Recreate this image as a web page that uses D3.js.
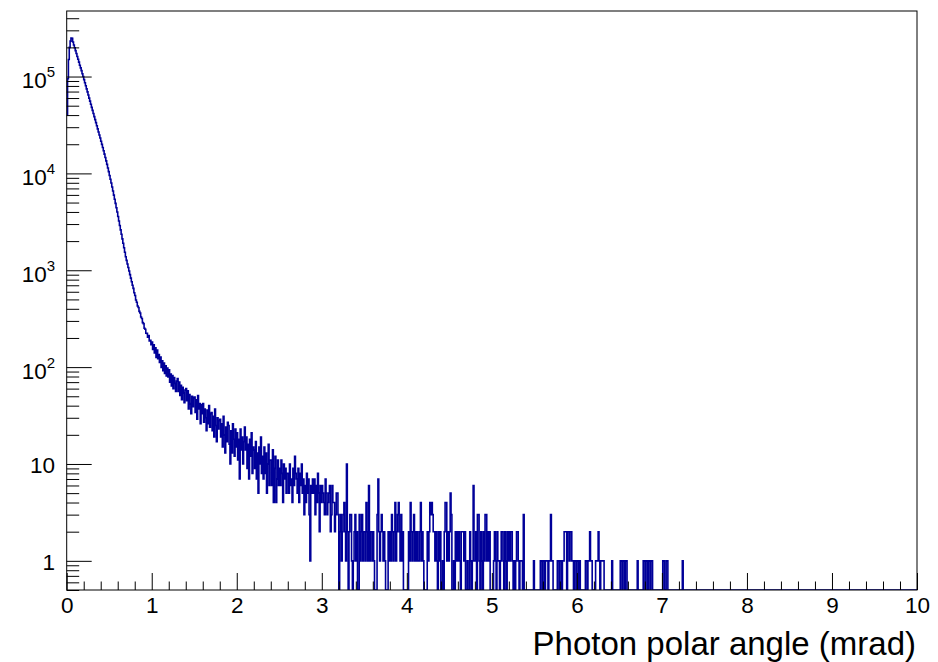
<!DOCTYPE html>
<html>
<head>
<meta charset="utf-8">
<script src="https://cdn.jsdelivr.net/npm/d3@7"></script>
<style>
  body { margin: 0; background: #fff; }
  svg { display: block; font-family: "Liberation Sans", Arial, Helvetica, sans-serif; }
</style>
</head>
<body>
<div id="chart"></div>
<script>
// photon polar angle histogram, log y — ROOT style canvas

const BIN_WIDTH = 0.01;
const N_BINS = 1000;   // 0 .. 10 mrad

// 0 - 1 mrad (core)
const coreCounts = [
  40000, 95000, 150000, 200000, 232000, 250000, 248000, 227000, 212000, 198000,
  185000, 173000, 161000, 151000, 141000, 131000, 123000, 115000, 107000, 100000,
  92900, 86400, 80300, 74600, 69400, 64500, 59900, 55700, 51800, 48100,
  44700, 41600, 38600, 35900, 33400, 31000, 28800, 26800, 24900, 23200,
  21500, 19950, 18500, 17130, 15830, 14610, 13460, 12380, 11360, 10420,
  9530, 8710, 7950, 7240, 6580, 5970, 5410, 4900, 4420, 3990,
  3590, 3230, 2900, 2610, 2350, 2110, 1900, 1710, 1535, 1380,
  1265, 1162, 1068, 981, 902, 829, 762, 700, 650, 585,
  548, 494, 468, 427, 412, 376, 362, 329, 318, 288,
  281, 252, 246, 224, 223, 204, 212, 186, 189, 170
];

// 1 - 3 mrad (halo)
const haloCounts = [
  182, 152, 170, 140, 158, 126, 150, 122, 135, 112,
  127, 99, 116, 92, 110, 86, 103, 81, 98, 79,
  94, 70, 85, 64, 82, 60, 78, 68, 56, 72,
  76, 56, 70, 51, 65, 46, 62, 54, 43, 58,
  60, 45, 57, 37, 52, 42, 33, 50, 39, 48,
  49, 34, 46, 29, 51, 37, 42, 26, 41, 33,
  42, 27, 37, 30, 22, 36, 26, 40, 24, 33,
  34, 22, 31, 19, 37, 25, 17, 30, 23, 28,
  29, 19, 26, 15, 31, 20, 13, 24, 17, 27,
  25, 16, 10, 22, 13, 26, 18, 12, 23, 15,
  21, 11, 18, 7, 23, 14, 19, 10, 17, 24,
  14, 19, 9, 16, 7, 18, 12, 21, 8, 15,
  14, 9, 17, 7, 13, 5, 15, 10, 19, 8,
  12, 7, 15, 8, 13, 5, 10, 16, 6, 11,
  11, 6, 14, 4, 9, 12, 4, 7, 11, 6,
  9, 6, 11, 8, 4, 10, 7, 9, 5, 8,
  8, 5, 10, 6, 7, 4, 9, 6, 12, 8,
  7, 5, 9, 4, 8, 6, 10, 5, 7, 3,
  6, 4, 8, 5, 7, 3, 1, 6, 5, 7,
  5, 7, 3, 6, 4, 8, 5, 2, 6, 4
];

// 3 - 7.4 mrad (tail), everything after is empty
const tailCounts = [
  6, 5, 4, 3, 7, 5, 3, 4, 5, 6, 2, 3, 6, 4, 4, 2, 3, 5, 5, 3,
  0, 2, 3, 1, 2, 3, 4, 2, 1, 10, 2, 0, 2, 3, 3, 1, 0, 1, 2, 3,
  1, 2, 0, 0, 3, 1, 2, 3, 1, 2, 2, 1, 4, 2, 1, 6, 1, 2, 2, 1,
  2, 1, 0, 0, 0, 3, 7, 2, 1, 2, 3, 2, 1, 2, 1, 0, 0, 0, 2, 1,
  2, 1, 3, 2, 1, 2, 4, 1, 2, 3, 4, 2, 1, 3, 1, 2, 0, 0, 0, 0,
  0, 0, 2, 1, 4, 2, 1, 2, 3, 1, 2, 1, 2, 1, 1, 2, 4, 1, 2, 1,
  0, 0, 0, 0, 2, 1, 2, 4, 3, 4, 3, 2, 2, 1, 2, 1, 0, 2, 1, 2,
  0, 0, 1, 0, 2, 4, 4, 1, 2, 1, 2, 5, 3, 0, 0, 1, 0, 2, 1, 2,
  1, 2, 1, 0, 2, 2, 2, 1, 2, 0, 0, 1, 0, 0, 2, 1, 0, 1, 6, 1,
  1, 2, 0, 3, 3, 1, 0, 2, 1, 0, 2, 1, 3, 3, 1, 2, 1, 2, 0, 0,
  0, 0, 1, 2, 1, 0, 2, 1, 1, 0, 1, 2, 2, 1, 0, 2, 1, 0, 2, 1,
  2, 1, 2, 2, 1, 0, 1, 0, 1, 2, 2, 1, 0, 1, 1, 1, 0, 3, 0, 0,
  0, 0, 0, 0, 0, 0, 0, 0, 0, 1, 0, 0, 0, 0, 0, 0, 0, 1, 1, 0,
  1, 1, 0, 1, 1, 1, 0, 1, 1, 3, 1, 1, 0, 0, 0, 0, 0, 1, 1, 0,
  1, 1, 0, 1, 1, 2, 2, 2, 0, 2, 2, 1, 2, 2, 1, 1, 0, 1, 1, 0,
  1, 1, 0, 1, 0, 0, 0, 0, 0, 0, 1, 1, 0, 1, 1, 2, 1, 1, 0, 0,
  0, 0, 1, 1, 1, 2, 1, 0, 1, 1, 1, 1, 0, 0, 0, 0, 0, 0, 0, 0,
  0, 1, 0, 0, 0, 0, 0, 0, 0, 0, 0, 1, 1, 0, 1, 1, 0, 1, 1, 0,
  0, 0, 0, 0, 0, 0, 0, 0, 0, 0, 0, 1, 0, 0, 0, 0, 0, 0, 1, 1,
  0, 1, 1, 0, 1, 1, 0, 1, 1, 0, 0, 0, 0, 0, 0, 0, 0, 0, 0, 0,
  0, 1, 1, 0, 0, 1, 1, 0, 0, 0, 0, 0, 0, 0, 0, 0, 0, 0, 0, 0,
  0, 0, 0, 0, 1, 0, 0, 0, 0, 0, 0, 0, 0, 0, 0, 0, 0, 0, 0, 0
];

const xMajorTicks = [0, 1, 2, 3, 4, 5, 6, 7, 8, 9, 10];
const yDecades = [1, 10, 100, 1000, 10000, 100000];
const yLabelBase = ['1', '10', '10', '10', '10', '10'];
const yLabelExp = ['', '', '2', '3', '4', '5'];

const X_TITLE = 'Photon polar angle (mrad)';

const CONFIG = {
    WIDTH: 938,
    HEIGHT: 662,
    FRAME: { left: 66.7, right: 917, top: 11, bottom: 590 },
    X_DOMAIN: [0, 10],
    Y_DOMAIN: [0.5, 4.75e5],

    LINE_COLOR: '#000099',
    LINE_WIDTH: 1.6,

    MAJOR_TICK_Y: 25,    // left axis, pointing inwards
    MINOR_TICK_Y: 12.5,
    MAJOR_TICK_X: 17,    // bottom axis, pointing up
    MINOR_TICK_X: 8.5,

    LABEL_SIZE: 22.5,
    EXP_SIZE: 15,
    TITLE_SIZE: 33,
};

const F = CONFIG.FRAME;

// all bins, empty ones padded at the end
const counts = coreCounts.concat(haloCounts, tailCounts);
while (counts.length < N_BINS) counts.push(0);

const svg = d3.select('#chart')
  .append('svg')
  .attr('width', CONFIG.WIDTH)
  .attr('height', CONFIG.HEIGHT);

const x = d3.scaleLinear().domain(CONFIG.X_DOMAIN).range([F.left, F.right]);
const y = d3.scaleLog().domain(CONFIG.Y_DOMAIN).range([F.bottom, F.top]);

svg.append('defs').append('clipPath')
  .attr('id', 'frame-clip')
  .append('rect')
  .attr('x', F.left).attr('y', F.top)
  .attr('width', F.right - F.left).attr('height', F.bottom - F.top);

// histogram outline: two points per bin, empty bins drop to the frame floor
const steps = [];
counts.forEach((c, i) => {
    const yy = c > 0 ? y(c) : F.bottom;
    steps.push([x(i * BIN_WIDTH), yy]);
    steps.push([x((i + 1) * BIN_WIDTH), yy]);
});

svg.append('path')
  .attr('clip-path', 'url(#frame-clip)')
  .attr('d', d3.line()(steps))
  .attr('fill', 'none')
  .attr('stroke', CONFIG.LINE_COLOR)
  .attr('stroke-width', CONFIG.LINE_WIDTH)
  .attr('stroke-linejoin', 'miter');

/******************** AXES ********************/

// x axis: minor ticks every 0.2, majors every 1 with labels
const xMinor = x.ticks(50).filter(v => !xMajorTicks.includes(v));

svg.append('g')
  .attr('transform', `translate(0,${F.bottom})`)
  .call(d3.axisBottom(x).tickValues(xMinor).tickSizeInner(-CONFIG.MINOR_TICK_X).tickSizeOuter(0).tickFormat(''))
  .call(g => g.select('.domain').remove());

const xAxis = svg.append('g')
  .attr('transform', `translate(0,${F.bottom})`)
  .call(d3.axisBottom(x).tickValues(xMajorTicks).tickSizeInner(-CONFIG.MAJOR_TICK_X).tickSizeOuter(0).tickPadding(7).tickFormat(d3.format('d')))
  .call(g => g.select('.domain').remove());

xAxis.selectAll('text')
  .attr('font-size', CONFIG.LABEL_SIZE)
  .attr('font-family', '"Liberation Sans", Arial, sans-serif')
  .attr('fill', '#000');

// y axis: log ticks, 2..9 minors
const yMinor = y.ticks().filter(v => !yDecades.includes(v));

svg.append('g')
  .attr('transform', `translate(${F.left},0)`)
  .call(d3.axisLeft(y).tickValues(yMinor).tickSizeInner(-CONFIG.MINOR_TICK_Y).tickSizeOuter(0).tickFormat(''))
  .call(g => g.select('.domain').remove());

svg.append('g')
  .attr('transform', `translate(${F.left},0)`)
  .call(d3.axisLeft(y).tickValues(yDecades).tickSizeInner(-CONFIG.MAJOR_TICK_Y).tickSizeOuter(0).tickFormat(''))
  .call(g => g.select('.domain').remove());

// y labels with superscript exponents
const yLabels = svg.append('g')
  .attr('font-size', CONFIG.LABEL_SIZE)
  .attr('fill', '#000')
  .selectAll('text')
  .data(yDecades)
  .join('text')
  .attr('x', 55)
  .attr('y', (d, i) => y(d) + (yLabelExp[i] ? 11.5 : 9))
  .attr('text-anchor', 'end');

yLabels.append('tspan').text((d, i) => yLabelBase[i]);
yLabels.filter((d, i) => yLabelExp[i] !== '')
  .append('tspan')
  .attr('dy', -11)
  .attr('font-size', CONFIG.EXP_SIZE)
  .text(d => yLabelExp[yDecades.indexOf(d)]);

// frame on top
svg.append('rect')
  .attr('x', F.left).attr('y', F.top)
  .attr('width', F.right - F.left).attr('height', F.bottom - F.top)
  .attr('fill', 'none')
  .attr('stroke', '#000')
  .attr('stroke-width', 1);

// x title, right aligned to the axis end
svg.append('text')
  .attr('x', 916)
  .attr('y', 655)
  .attr('text-anchor', 'end')
  .attr('font-size', CONFIG.TITLE_SIZE)
  .attr('fill', '#000')
  .text(X_TITLE);
</script>
</body>
</html>
